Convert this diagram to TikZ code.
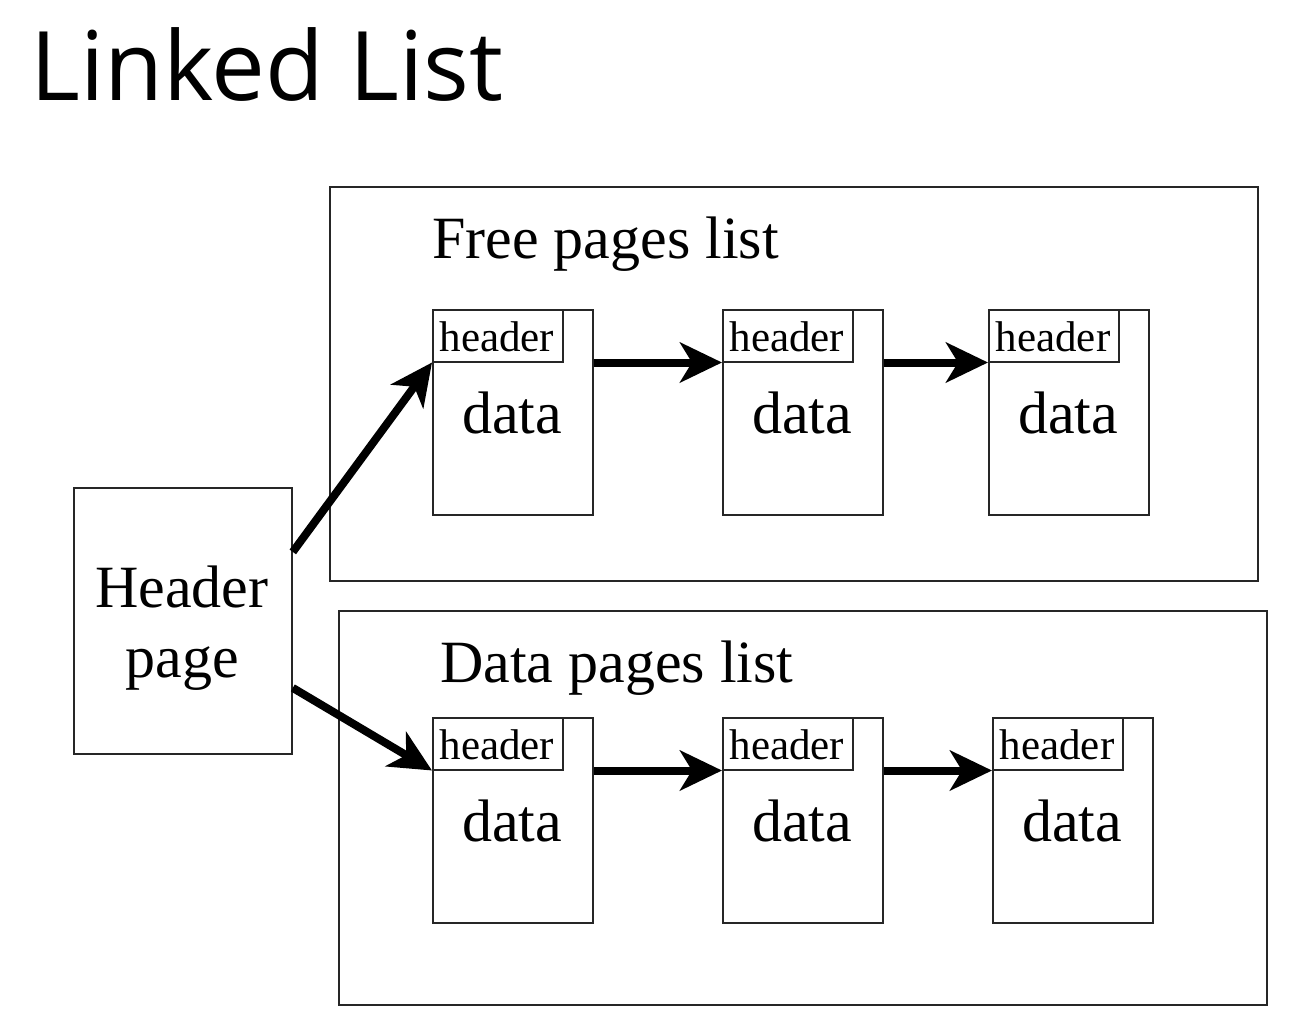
\documentclass[tikz,border=0pt]{standalone}
\usepackage{fontspec}
\setmainfont{Liberation Serif}
\newfontfamily\titlefont{Open Sans}
\usetikzlibrary{arrows.meta}
\begin{document}
\begin{tikzpicture}[x=1pt,y=-1pt,
  frame/.style={draw=black!85,line width=1.8pt,inner sep=0pt},
  pagebox/.style={draw=black!85,line width=1.8pt,minimum width=160pt,minimum height=205pt,anchor=north west,inner sep=0pt},
  hdrbox/.style={draw=black!85,line width=1.5pt,minimum width=130pt,minimum height=52pt,anchor=north west,inner sep=0pt},
  hdrtxt/.style={font=\fontsize{43}{50}\selectfont,anchor=base,inner sep=0pt},
  datatxt/.style={font=\fontsize{60}{70}\selectfont,anchor=base,inner sep=0pt},
  lbl/.style={font=\fontsize{60}{70}\selectfont,anchor=base west,inner sep=0pt},
  link/.style={line width=8pt,-{Stealth[length=42pt,width=40pt,inset=12pt]}}
]
\useasboundingbox (0,0) rectangle (1301,1033);
% title
\node[font=\titlefont\fontsize{96}{110}\selectfont,anchor=base west,inner sep=0pt] (title) at (30,100) {Linked List};
% outer frames
\node[frame,minimum width=928pt,minimum height=394pt,anchor=north west] (free) at (329,186) {};
\node[frame,minimum width=928pt,minimum height=394pt,anchor=north west] (dat) at (338,610) {};
\node[lbl] (freelbl) at (432,258) {Free pages list};
\node[lbl] (datlbl) at (440,682) {Data pages list};
% header page
\node[frame,minimum width=218pt,minimum height=266pt,anchor=north west] (hp) at (73,487) {};
\node[datatxt] (hpa) at (182,607) {Header};
\node[datatxt] (hpb) at (182,677) {page};
% free list pages
\foreach \n/\x in {1/432,2/722,3/988}{
  \node[pagebox] (f\n) at (\x,309) {};
  \node[hdrbox] (fh\n) at (\x,309) {};
  \node[hdrtxt] (fht\n) at (\x+65,351) {header};
  \node[datatxt] (fd\n) at (\x+80,433) {data};
}
% data list pages
\foreach \n/\x in {1/432,2/722,3/992}{
  \node[pagebox] (d\n) at (\x,717) {};
  \node[hdrbox] (dh\n) at (\x,717) {};
  \node[hdrtxt] (dht\n) at (\x+65,759) {header};
  \node[datatxt] (dd\n) at (\x+80,841) {data};
}
% arrows
\draw[link] ([yshift=69pt]hp.east) -- (fh1.south west);
\draw[link] ([yshift=-67pt]hp.east) -- (dh1.south west);
\draw[link] (f1.east |- fh1.south) -- (fh2.south west);
\draw[link] (f2.east |- fh2.south) -- (fh3.south west);
\draw[link] (d1.east |- dh1.south) -- (dh2.south west);
\draw[link] (d2.east |- dh2.south) -- (dh3.south west);
\end{tikzpicture}
\end{document}
